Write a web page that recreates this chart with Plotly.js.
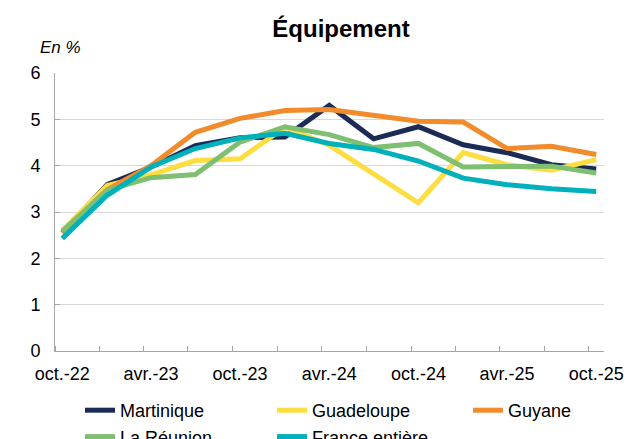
<!DOCTYPE html>
<html>
<head>
<meta charset="utf-8">
<script src="https://cdn.plot.ly/plotly-3.0.1.min.js"></script>
<style>html,body{margin:0;padding:0;background:#fff;}#chart{width:633px;height:439px;}</style>
</head>
<body>
<div id="chart"></div>
<script>
// Quarterly observations (mid-month positions)
var months = ['2022-10-16','2023-01-16','2023-04-16','2023-07-16','2023-10-16','2024-01-16','2024-04-16','2024-07-16','2024-10-16','2025-01-16','2025-04-16','2025-07-16','2025-10-16'];
var martinique = [2.55, 3.59, 3.97, 4.43, 4.60, 4.62, 5.30, 4.58, 4.84, 4.45, 4.28, 4.02, 3.93];
var guadeloupe = [2.60, 3.57, 3.80, 4.11, 4.15, 4.83, 4.44, 3.83, 3.20, 4.28, 4.02, 3.90, 4.13];
var guyane     = [2.55, 3.48, 4.00, 4.72, 5.02, 5.19, 5.21, 5.09, 4.96, 4.94, 4.37, 4.42, 4.24];
var reunion    = [2.58, 3.47, 3.74, 3.81, 4.51, 4.84, 4.67, 4.39, 4.48, 3.97, 3.98, 3.99, 3.84];
var france     = [2.43, 3.36, 3.97, 4.37, 4.60, 4.70, 4.48, 4.35, 4.10, 3.73, 3.59, 3.50, 3.44];
var seriesNames = ['Martinique','Guadeloupe','Guyane','La Réunion','France entière'];

// Axis labels
var labelDates = ['2022-10-16','2023-04-16','2023-10-16','2024-04-16','2024-10-16','2025-04-16','2025-10-16'];
var labelTexts = ['oct.-22','avr.-23','oct.-23','avr.-24','oct.-24','avr.-25','oct.-25'];
var quarterStarts = ['2022-10-01','2023-01-01','2023-04-01','2023-07-01','2023-10-01','2024-01-01','2024-04-01','2024-07-01','2024-10-01','2025-01-01','2025-04-01','2025-07-01','2025-10-01'];

var colors = ['#1c2b55','#fddd3f','#f28b2b','#7fbf72','#00b0bb'];
var values = [martinique, guadeloupe, guyane, reunion, france];
// legend column for each series (three columns, Excel-like two-row legend)
var legendCol = ['legend','legend2','legend3','legend','legend2'];

var traces = values.map(function(v, i){
  return {x: months, y: v, type: 'scatter', mode: 'lines', name: seriesNames[i], legend: legendCol[i],
          line: {color: colors[i], width: 5}, hoverinfo: 'skip'};
});

var font = 'Liberation Sans, Arial, sans-serif';
function legendAt(px){
  return {orientation: 'v', xref: 'container', x: px/633, xanchor: 'left', yref: 'container', y: 1 - 392/439, yanchor: 'top',
          itemwidth: 30, font: {family: font, size: 18, color: '#000'}, bgcolor: 'rgba(0,0,0,0)', tracegroupgap: 0};
}
var layout = {
  width: 633, height: 439,
  margin: {l: 55, r: 29, t: 73, b: 88, autoexpand: false},
  paper_bgcolor: '#fff', plot_bgcolor: '#fff',
  font: {family: font, size: 18, color: '#000'},
  title: {text: '<b>Équipement</b>', font: {family: font, size: 24, color: '#000'},
          x: 341/633, xanchor: 'center', xref: 'container', y: 1 - 29/439, yanchor: 'middle', yref: 'container'},
  xaxis: {
    type: 'date', range: ['2022-10-01','2025-11-01'],
    tickmode: 'array', tickvals: labelDates, ticktext: labelTexts, ticks: '',
    showgrid: false, showline: true, linecolor: '#a6a6a6', linewidth: 1,
    tickfont: {family: font, size: 18, color: '#000'},
    ticklabelstandoff: 6,
    minor: {tickmode: 'array', tickvals: quarterStarts, ticks: 'inside', ticklen: 5, tickcolor: '#a6a6a6', tickwidth: 1, showgrid: false},
    fixedrange: true
  },
  yaxis: {
    range: [0, 6], tickmode: 'linear', tick0: 0, dtick: 1,
    showgrid: true, gridcolor: '#d9d9d9', gridwidth: 1,
    showline: true, linecolor: '#a6a6a6', linewidth: 1,
    ticks: 'inside', ticklen: 5, tickcolor: '#a6a6a6',
    zeroline: false,
    tickfont: {family: font, size: 18, color: '#000'},
    ticklabelstandoff: 10,
    fixedrange: true
  },
  showlegend: true,
  legend: legendAt(80),
  legend2: legendAt(272),
  legend3: legendAt(468),
  annotations: [{text: '<i>En %</i>', xref: 'paper', yref: 'paper', x: -0.031, xanchor: 'left',
                 y: (350.7-48)/277.7, yanchor: 'middle', showarrow: false,
                 font: {family: font, size: 17, color: '#000'}}]
};

Plotly.newPlot('chart', traces, layout, {displayModeBar: false, staticPlot: true});
</script>
</body>
</html>
